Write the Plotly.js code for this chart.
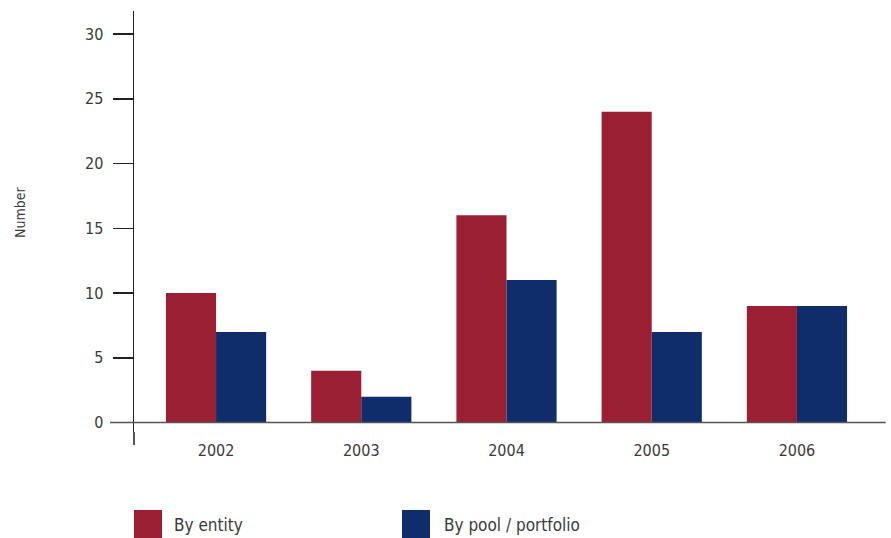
<!DOCTYPE html>
<html>
<head>
<meta charset="utf-8">
<script src="https://cdn.plot.ly/plotly-3.0.1.min.js"></script>
<style>html,body{margin:0;padding:0;background:#fff;}#chart{width:891px;height:538px;}</style>
</head>
<body>
<div id="chart"></div>
<script>
const years = ["2002", "2003", "2004", "2005", "2006"];
const byEntity = [10, 4, 16, 24, 9];
const byPool = [7, 2, 11, 7, 9];
const seriesNames = ["By entity", "By pool / portfolio"];
const seriesColors = ["#9b1f32", "#0f2d6b"];
const yTicks = [0, 5, 10, 15, 20, 25, 30];
const yTitle = "Number";

const FONT = '"Liberation Sans Narrow", "DejaVu Sans Condensed", "Roboto", sans-serif';
const TXT = '#3a3a3a';

const traces = [byEntity, byPool].map((vals, i) => ({
  type: 'bar',
  x: years,
  y: vals,
  name: seriesNames[i],
  marker: {color: seriesColors[i], line: {width: 0}},
  hoverinfo: 'x+y+name'
}));

const layout = {
  width: 891,
  height: 538,
  margin: {l: 134, r: 3, t: 11, b: 106, pad: 0},
  paper_bgcolor: '#fff',
  plot_bgcolor: '#fff',
  barmode: 'group',
  bargap: 0.31,
  bargroupgap: 0,
  showlegend: false,
  font: {family: FONT, color: TXT, size: 16},
  xaxis: {
    type: 'category',
    range: [-0.565, 4.627],
    showgrid: false,
    zeroline: false,
    showline: false,
    ticks: 'outside',
    ticklen: 4,
    tickcolor: 'rgba(0,0,0,0)',
    tickfont: {family: FONT, size: 16, color: TXT},
    fixedrange: true
  },
  yaxis: {
    range: [-0.73, 31.78],
    tickvals: yTicks,
    ticktext: yTicks.map(String),
    showgrid: false,
    zeroline: false,
    showline: true,
    linecolor: '#222',
    linewidth: 1.5,
    ticks: 'outside',
    ticklen: 20,
    tickwidth: 1.5,
    tickcolor: '#222',
    ticklabelstandoff: 6,
    tickfont: {family: FONT, size: 16, color: TXT},
    fixedrange: true
  },
  shapes: [
    {type: 'line', xref: 'paper', yref: 'y', x0: -0.0318, x1: 0.997, y0: 0, y1: 0,
     line: {color: '#555', width: 1.5}, layer: 'above'},
    {type: 'line', xref: 'paper', yref: 'paper', x0: 0, x1: 0, y0: -0.0309, y1: 0,
     line: {color: '#222', width: 1.5}},
    {type: 'rect', xref: 'paper', yref: 'paper', x0: 0, x1: 0.0371, y0: -0.1853, y1: -0.2518,
     fillcolor: seriesColors[0], line: {width: 0}},
    {type: 'rect', xref: 'paper', yref: 'paper', x0: 0.3554, x1: 0.3926, y0: -0.1853, y1: -0.2518,
     fillcolor: seriesColors[1], line: {width: 0}}
  ],
  annotations: [
    {xref: 'paper', yref: 'paper', x: 0.0504, y: -0.2209, xanchor: 'left', yanchor: 'middle',
     text: seriesNames[0], showarrow: false, font: {family: FONT, size: 17, color: TXT}},
    {xref: 'paper', yref: 'paper', x: 0.4085, y: -0.2209, xanchor: 'left', yanchor: 'middle',
     text: seriesNames[1], showarrow: false, font: {family: FONT, size: 17, color: TXT}},
    {xref: 'paper', yref: 'paper', x: -0.1512, y: 0.5226, xanchor: 'center', yanchor: 'middle',
     text: yTitle, textangle: -90, showarrow: false, font: {family: FONT, size: 14, color: TXT}}
  ]
};

Plotly.newPlot('chart', traces, layout, {displayModeBar: false, staticPlot: true});
</script>
</body>
</html>
